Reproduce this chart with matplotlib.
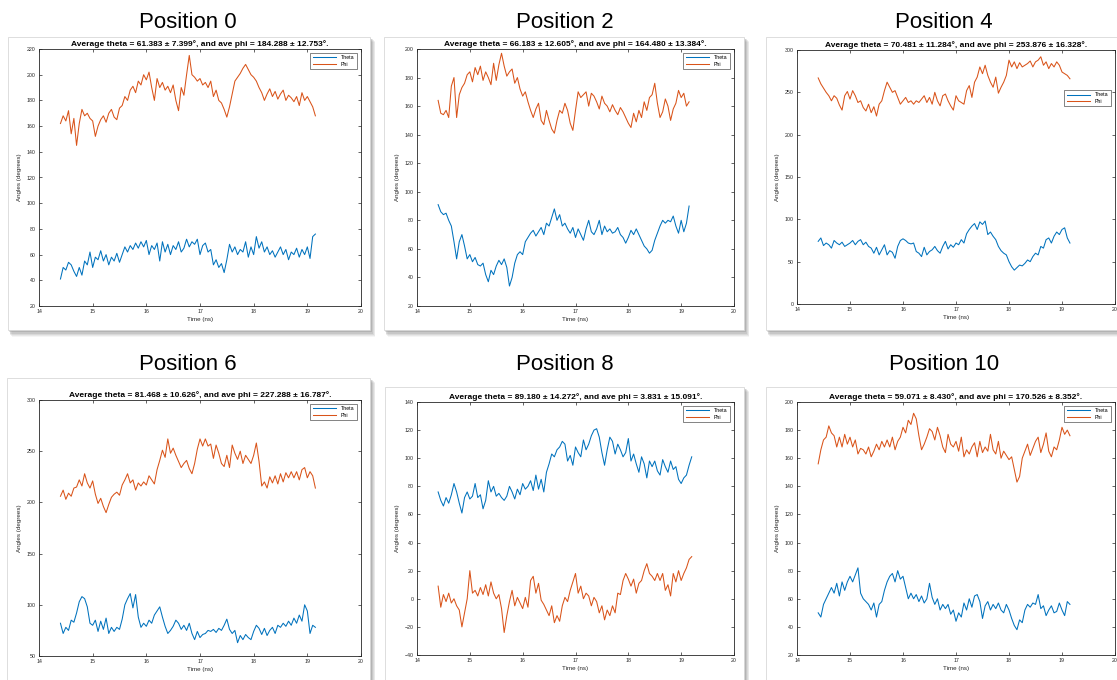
import numpy as np
import matplotlib
matplotlib.use("Agg")
import matplotlib.pyplot as plt
from matplotlib.patches import Rectangle

plt.rcParams["font.family"] = ["Liberation Sans", "DejaVu Sans"]

W, H = 1117, 680

# Sampling grid of each trajectory (ns)
t_start = 14.40
t_step = 0.05

positions = ["Position 0", "Position 2", "Position 4",
             "Position 6", "Position 8", "Position 10"]

titles = [
    "Average theta = 61.383 \u00b1 7.399\u00b0, and ave phi = 184.288 \u00b1 12.753\u00b0.",
    "Average theta = 66.183 \u00b1 12.605\u00b0, and ave phi = 164.480 \u00b1 13.384\u00b0.",
    "Average theta = 70.481 \u00b1 11.284\u00b0, and ave phi = 253.876 \u00b1 16.328\u00b0.",
    "Average theta = 81.468 \u00b1 10.626\u00b0, and ave phi = 227.288 \u00b1 16.787\u00b0.",
    "Average theta = 89.180 \u00b1 14.272\u00b0, and ave phi = 3.831 \u00b1 15.091\u00b0.",
    "Average theta = 59.071 \u00b1 8.430\u00b0, and ave phi = 170.526 \u00b1 8.352\u00b0.",
]

theta0 = [41, 50, 48, 54, 52, 47, 43, 50, 44, 55, 52, 62,
          50, 58, 56, 63, 55, 60, 52, 58, 55, 61, 54, 60,
          66, 62, 67, 64, 69, 65, 70, 66, 71, 60, 67, 64,
          69, 55, 70, 62, 68, 60, 67, 64, 70, 62, 65, 72,
          66, 70, 68, 72, 60, 67, 69, 62, 64, 52, 56, 50,
          53, 46, 56, 68, 62, 66, 60, 64, 62, 70, 58, 66,
          60, 74, 65, 70, 62, 66, 60, 63, 58, 62, 66, 60,
          64, 56, 62, 60, 65, 58, 64, 60, 66, 57, 74, 76]
phi0 = [162, 168, 164, 172, 154, 166, 145, 162, 173, 168, 170, 166,
        164, 152, 160, 165, 168, 163, 170, 173, 167, 165, 174, 176,
        183, 180, 188, 191, 186, 195, 192, 200, 196, 202, 190, 180,
        197, 190, 194, 188, 191, 186, 192, 180, 172, 190, 184, 200,
        215, 200, 198, 195, 197, 192, 194, 190, 195, 183, 188, 180,
        178, 173, 167, 175, 185, 195, 198, 201, 205, 208, 204, 200,
        198, 195, 190, 186, 180, 185, 189, 183, 187, 181, 185, 188,
        180, 184, 182, 179, 183, 176, 186, 180, 183, 179, 175, 168]

theta2 = [91, 86, 84, 85, 80, 76, 65, 53, 65, 70, 62, 53,
          56, 51, 54, 49, 48, 50, 42, 37, 45, 42, 48, 52,
          49, 53, 47, 34, 40, 50, 56, 58, 56, 65, 68, 71,
          73, 69, 72, 75, 70, 78, 76, 82, 88, 80, 84, 76,
          78, 74, 71, 75, 68, 74, 70, 66, 74, 80, 72, 70,
          74, 80, 70, 76, 72, 74, 71, 72, 75, 70, 68, 64,
          68, 73, 70, 74, 70, 66, 62, 60, 57, 59, 66, 71,
          76, 80, 78, 80, 79, 83, 76, 71, 80, 72, 78, 90]
phi2 = [164, 155, 154, 157, 152, 174, 180, 152, 168, 173, 176, 182,
        184, 177, 187, 182, 188, 178, 184, 180, 175, 190, 178, 189,
        197, 188, 181, 184, 186, 176, 180, 172, 167, 170, 163, 157,
        152, 158, 162, 150, 147, 157, 150, 144, 141, 150, 157, 155,
        162, 157, 148, 143, 157, 170, 166, 168, 170, 160, 169, 167,
        163, 158, 167, 162, 160, 156, 161, 157, 154, 159, 156, 152,
        148, 145, 155, 149, 157, 152, 163, 157, 166, 168, 176, 162,
        152, 156, 165, 160, 150, 158, 162, 171, 166, 169, 160, 163]

theta4 = [74, 78, 69, 72, 70, 66, 75, 72, 70, 73, 68, 70,
          72, 75, 70, 74, 76, 70, 73, 68, 66, 60, 67, 58,
          64, 70, 58, 63, 61, 54, 68, 75, 77, 75, 72, 71,
          72, 62, 60, 56, 67, 58, 62, 64, 68, 63, 60, 68,
          74, 65, 70, 67, 72, 70, 76, 72, 83, 88, 92, 95,
          88, 97, 94, 98, 82, 85, 80, 76, 68, 63, 60, 58,
          50, 44, 40, 43, 46, 45, 48, 52, 50, 56, 60, 58,
          68, 66, 76, 78, 72, 80, 85, 82, 88, 90, 78, 72]
phi4 = [267, 260, 255, 250, 246, 240, 246, 243, 235, 229, 246, 251,
        242, 252, 246, 238, 240, 232, 228, 236, 226, 233, 222, 236,
        240, 252, 262, 256, 250, 252, 244, 236, 240, 244, 238, 240,
        236, 240, 238, 242, 246, 238, 244, 236, 250, 240, 234, 246,
        248, 240, 234, 229, 246, 240, 238, 236, 252, 258, 244, 262,
        268, 280, 272, 282, 270, 262, 256, 268, 249, 256, 262, 270,
        288, 280, 286, 278, 285, 280, 282, 284, 287, 280, 286, 288,
        292, 282, 286, 278, 284, 280, 286, 282, 274, 272, 270, 266]

theta6 = [82, 72, 78, 75, 85, 83, 92, 103, 108, 106, 98, 82,
          80, 85, 74, 84, 76, 87, 72, 78, 74, 78, 76, 86,
          100, 106, 111, 97, 110, 88, 78, 82, 79, 85, 82, 90,
          94, 98, 88, 79, 72, 75, 79, 85, 82, 76, 80, 75,
          82, 72, 66, 74, 68, 71, 72, 75, 74, 76, 73, 77,
          75, 80, 86, 76, 72, 75, 63, 70, 66, 71, 68, 66,
          74, 80, 77, 71, 77, 70, 75, 78, 72, 80, 78, 82,
          79, 84, 80, 87, 82, 90, 84, 100, 94, 72, 80, 78]
phi6 = [206, 212, 203, 209, 206, 214, 215, 222, 216, 228, 219, 214,
        221, 208, 199, 204, 196, 190, 198, 205, 208, 210, 207, 217,
        222, 228, 219, 222, 212, 219, 216, 220, 217, 226, 222, 218,
        232, 241, 251, 244, 262, 248, 253, 246, 240, 234, 238, 241,
        233, 228, 238, 252, 262, 255, 262, 255, 257, 243, 256, 248,
        238, 235, 246, 234, 256, 248, 242, 250, 238, 246, 242, 238,
        246, 258, 240, 216, 220, 214, 225, 219, 226, 218, 228, 220,
        229, 224, 230, 224, 230, 222, 232, 234, 224, 230, 226, 214]

theta8 = [76, 70, 66, 72, 68, 74, 82, 76, 68, 61, 72, 76,
          71, 73, 82, 72, 74, 64, 70, 84, 76, 80, 73, 75,
          72, 70, 73, 80, 76, 71, 78, 74, 82, 78, 80, 84,
          77, 88, 78, 85, 76, 90, 96, 103, 101, 106, 108, 112,
          110, 98, 102, 95, 108, 104, 101, 113, 106, 110, 116, 120,
          121, 115, 104, 95, 106, 115, 112, 103, 110, 106, 101, 104,
          114, 98, 103, 96, 90, 101, 96, 86, 98, 94, 98, 91,
          88, 99, 94, 90, 98, 92, 94, 85, 82, 86, 88, 95, 101]
phi8 = [9, -6, 3, -2, 4, -3, 0, -5, -8, -20, -10, 0,
        20, 4, 6, 2, 8, 3, 10, 2, 12, 4, 0, 3,
        -7, -24, -12, -2, 6, -5, 1, -3, -7, 1, -6, 13,
        16, 4, 11, -1, -4, -8, -12, -5, -17, -12, -16, -5,
        1, -2, 6, 12, 18, 4, 9, 0, 4, 2, -5, 1,
        -2, -10, -5, -15, -8, -12, -5, -10, 4, 3, 13, 18,
        14, 9, 14, 4, 11, 13, 20, 25, 18, 16, 13, 18,
        13, 18, 6, 10, 2, 18, 12, 20, 13, 18, 22, 28, 30]

theta10 = [50, 47, 56, 60, 64, 68, 64, 71, 62, 72, 66, 72,
           76, 72, 77, 82, 64, 60, 58, 56, 52, 57, 47, 56,
           58, 66, 72, 76, 78, 72, 80, 74, 76, 68, 60, 64,
           60, 63, 58, 62, 57, 60, 71, 61, 56, 60, 52, 56,
           53, 56, 49, 52, 44, 50, 47, 57, 52, 60, 54, 62,
           63, 58, 46, 55, 58, 52, 56, 53, 57, 52, 50, 56,
           52, 46, 41, 38, 45, 43, 52, 56, 54, 57, 56, 63,
           53, 55, 48, 52, 55, 50, 51, 57, 52, 48, 58, 56]
phi10 = [156, 166, 173, 175, 183, 178, 176, 168, 175, 168, 177, 170,
         175, 168, 173, 163, 167, 166, 163, 168, 161, 165, 170, 166,
         172, 168, 173, 168, 175, 166, 172, 175, 182, 178, 187, 184,
         192, 188, 176, 166, 170, 175, 181, 179, 173, 182, 176, 168,
         164, 177, 170, 168, 172, 165, 175, 161, 166, 163, 168, 171,
         161, 172, 164, 168, 165, 177, 166, 163, 172, 160, 165, 162,
         159, 161, 152, 143, 147, 160, 165, 170, 162, 167, 172, 175,
         164, 170, 178, 165, 161, 168, 166, 173, 182, 177, 180, 176]

theta_sets = [theta0, theta2, theta4, theta6, theta8, theta10]
phi_sets = [phi0, phi2, phi4, phi6, phi8, phi10]

y_limits = [(20, 220), (20, 200), (0, 300), (50, 300), (-40, 140), (20, 200)]
y_steps = [20, 20, 50, 50, 20, 20]
x_ticks = [14, 15, 16, 17, 18, 19, 20]

# Pixel layout: axes boxes (left, top, right, bottom), window frames, caption centres
axes_px = [(39, 49, 361, 306), (417, 49, 734, 306), (797, 50, 1115, 304),
           (39, 400, 361, 656), (417, 402, 734, 655), (797, 402, 1115, 655)]
frames_px = [(8, 37, 370, 330), (384, 37, 744, 330), (766, 37, 1130, 330),
             (7, 378, 370, 700), (385, 387, 744, 700), (766, 387, 1130, 700)]
caption_px = [(188, 23), (565, 23), (944, 23), (188, 365), (565, 365), (944, 365)]
legend_loc = ["upper right", "upper right", "center right",
              "upper right", "upper right", "upper right"]
legend_anchor = [None, None, (1.0, 0.81), None, None, None]

theta_color = "#0072BD"
phi_color = "#D95319"
ink = "#262626"

fig = plt.figure(figsize=(W / 100, H / 100), dpi=100)
fig.patch.set_facecolor("white")


def fig_rect(l, t, r, b):
    return [l / W, 1 - b / H, (r - l) / W, (b - t) / H]


# Window frames with a soft drop shadow
for (l, t, r, b) in frames_px:
    for k, a in zip(range(6, 0, -1), [0.06, 0.08, 0.1, 0.13, 0.17, 0.22]):
        x, y, w, h = fig_rect(l + k * 0.6, t + k * 0.8, r + k * 0.9, b + k * 1.2)
        fig.add_artist(Rectangle((x, y), w, h, transform=fig.transFigure,
                                 facecolor="#555555", edgecolor="none",
                                 alpha=a, zorder=-3))
    x, y, w, h = fig_rect(l, t, r, b)
    fig.add_artist(Rectangle((x, y), w, h, transform=fig.transFigure,
                             facecolor="white", edgecolor="#d8d8d8",
                             linewidth=0.6, zorder=-2))

for i in range(6):
    ax = fig.add_axes(fig_rect(*axes_px[i]))
    th = np.asarray(theta_sets[i], dtype=float)
    ph = np.asarray(phi_sets[i], dtype=float)
    t_th = t_start + t_step * np.arange(len(th))
    t_ph = t_start + t_step * np.arange(len(ph))
    ax.plot(t_th, th, color=theta_color, lw=0.75, label="Theta")
    ax.plot(t_ph, ph, color=phi_color, lw=0.75, label="Phi")

    lo, hi = y_limits[i]
    ax.set_xlim(14, 20)
    ax.set_ylim(lo, hi)
    ax.set_xticks(x_ticks)
    ax.set_yticks(np.arange(lo, hi + 0.1, y_steps[i]))
    ax.tick_params(direction="in", length=2.2, width=0.5, labelsize=3.8,
                   colors=ink, top=True, right=True, pad=2.5)
    for s in ax.spines.values():
        s.set_linewidth(0.6)
        s.set_color(ink)
    ax.set_title(titles[i], fontsize=6, fontweight="bold", color="black", pad=2.5)
    ax.set_xlabel("Time (ns)", fontsize=4.5, color=ink, labelpad=2)
    ax.set_ylabel("Angles (degrees)", fontsize=4.5, color=ink, labelpad=3)

    leg_kw = dict(loc=legend_loc[i], fontsize=3.8, frameon=True, fancybox=False,
                  handlelength=4.5, borderpad=0.4, labelspacing=0.3,
                  handletextpad=0.9, borderaxespad=0.8)
    if legend_anchor[i] is not None:
        leg_kw["bbox_to_anchor"] = legend_anchor[i]
    leg = ax.legend(**leg_kw)
    leg.get_frame().set_edgecolor(ink)
    leg.get_frame().set_linewidth(0.5)

    cx, cy = caption_px[i]
    fig.text(cx / W, 1 - cy / H, positions[i], ha="center", va="center",
             fontsize=16, color="black")

fig.savefig("out.png", dpi=100, facecolor="white")
